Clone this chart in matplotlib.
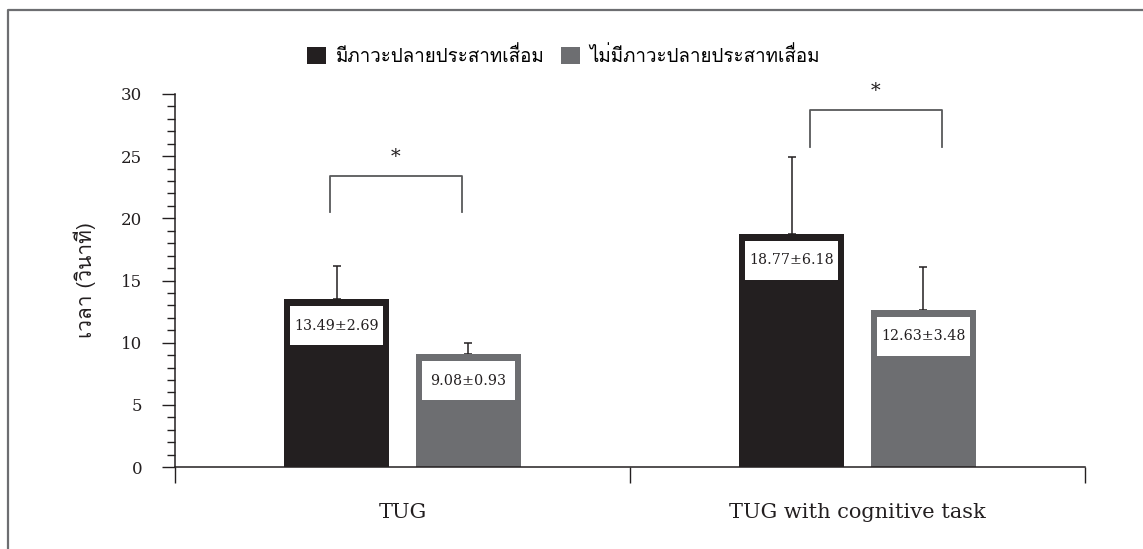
import matplotlib
matplotlib.use("Agg")
import matplotlib.pyplot as plt
from matplotlib import font_manager
from matplotlib.ft2font import FT2Font
from matplotlib.patches import Rectangle
from matplotlib.lines import Line2D
from matplotlib.ticker import MultipleLocator

# data
groups = ["TUG", "TUG with cognitive task"]
series = ["มีภาวะปลายประสาทเสื่อม", "ไม่มีภาวะปลายประสาทเสื่อม"]
means = [[13.49, 18.77],   # with neuropathy
         [9.08, 12.63]]    # without neuropathy
sds = [[2.69, 6.18],
       [0.93, 3.48]]
sig = ["*", "*"]
ylabel = "เวลา (วินาที)"
colors = ["#231f20", "#6d6e71"]


# look for a font that has Thai glyphs
def find_thai_font():
    for f in font_manager.fontManager.ttflist:
        try:
            cmap = FT2Font(f.fname).get_charmap()
        except Exception:
            continue
        if ord("ม") in cmap and ord("ื") in cmap:
            return f.name
    return None


thai = find_thai_font()
thai_family = [thai, "DejaVu Sans"] if thai else ["DejaVu Sans"]
serif = "DejaVu Serif"

fig = plt.figure(figsize=(11.43, 5.49), dpi=100)
ax = fig.add_axes([175 / 1143, 1 - 467 / 549, 910 / 1143, 373 / 549])

centers = [0.5, 1.5]
offs = [-0.145, 0.145]
width = 0.23
px_per_unit = 373 / 30  # vertical pixels per data unit

for s in range(2):
    xs = [c + offs[s] for c in centers]
    ax.bar(xs, means[s], width=width, color=colors[s], zorder=2)
    ax.errorbar(xs, means[s], yerr=[[0, 0], sds[s]], fmt="none",
                ecolor="#231f20", elinewidth=1.1, capsize=3, capthick=1.1, zorder=1)
    for x, m, sd in zip(xs, means[s], sds[s]):
        top = m - 7 / px_per_unit
        h = 39 / px_per_unit
        ax.add_patch(Rectangle((x - 0.103, top - h), 0.206, h,
                               facecolor="white", edgecolor="none", zorder=3))
        ax.text(x, top - h / 2, f"{m:.2f}±{sd:.2f}", ha="center", va="center",
                family=serif, fontsize=10.3, color="#231f20", zorder=4)

# significance brackets (hand placed in the original)
bracket_shift = [-0.015, 0.04]
for i, c in enumerate(centers):
    x0 = c + offs[0] + bracket_shift[i]
    x1 = c + offs[1] + bracket_shift[i]
    ylo = max(means[0][i] + sds[0][i], means[1][i] + sds[1][i]) + 4.3 - 3.5 * i
    yhi = ylo + 2.95
    ax.plot([x0, x0, x1, x1], [ylo, yhi, yhi, ylo], color="#58595b", lw=1.3,
            clip_on=False, zorder=2)
    ax.text((x0 + x1) / 2, yhi + 0.8, sig[i], ha="center", va="bottom",
            family=serif, fontsize=14, color="#231f20")

ax.set_xlim(0, 2)
ax.set_ylim(0, 30)
ax.spines["top"].set_visible(False)
ax.spines["right"].set_visible(False)
for sp in ["left", "bottom"]:
    ax.spines[sp].set_color("#231f20")
    ax.spines[sp].set_linewidth(1.1)

ax.yaxis.set_major_locator(MultipleLocator(5))
ax.yaxis.set_minor_locator(MultipleLocator(1))
ax.tick_params(axis="y", which="major", length=9.5, width=1.0, pad=14,
               labelsize=12, colors="#231f20")
ax.tick_params(axis="y", which="minor", length=5.5, width=1.0, colors="#231f20")
for lab in ax.get_yticklabels():
    lab.set_family(serif)

ax.set_xticks([0, 1, 2])
ax.set_xticklabels([])
ax.set_xticks(centers, minor=True)
ax.set_xticklabels(groups, minor=True, family=serif, fontsize=15, color="#231f20")
ax.tick_params(axis="x", which="major", length=11.5, width=1.0, colors="#231f20")
ax.tick_params(axis="x", which="minor", length=0, pad=26)

ax.set_ylabel(ylabel, family=thai_family, fontsize=15, color="#231f20", labelpad=18)

handles = [Rectangle((0, 0), 1, 1, facecolor=c) for c in colors]
fig.legend(handles, series, loc="center", bbox_to_anchor=(0.493, 0.898), ncol=2,
           frameon=False, handlelength=1.0, handleheight=1.0, handletextpad=0.5,
           columnspacing=0.9, prop={"family": thai_family, "size": 13.5})

# frame around the figure (left and top edges only visible in the crop)
fig.add_artist(Line2D([8 / 1143, 8 / 1143, 1], [0, 1 - 10 / 549, 1 - 10 / 549],
                      transform=fig.transFigure, color="#6d6e71", lw=1.6))

fig.savefig("out.png", dpi=100)
